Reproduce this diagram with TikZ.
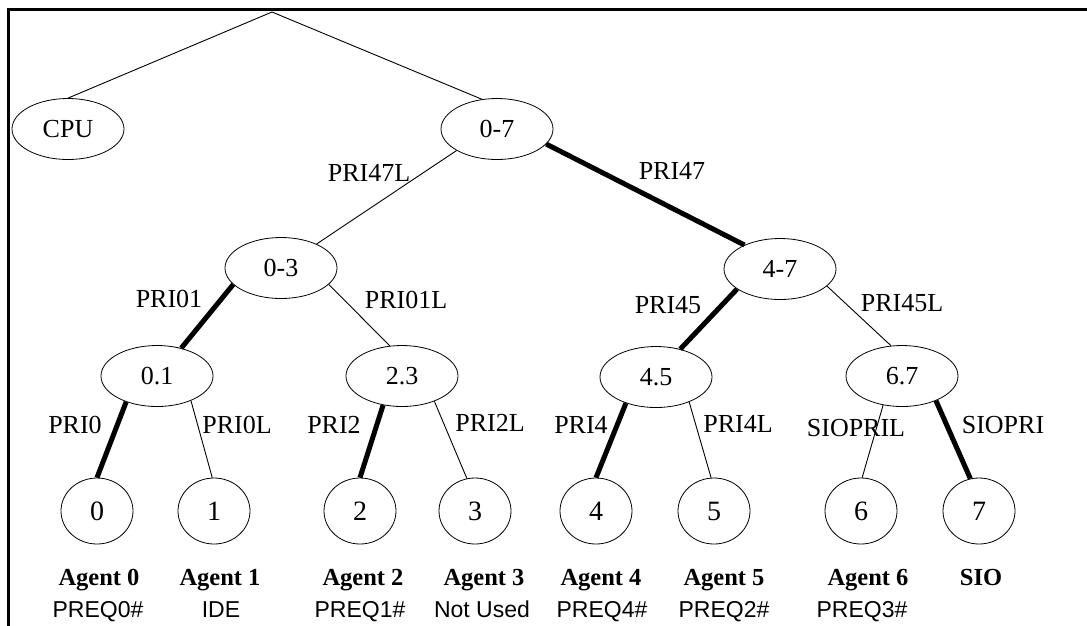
\documentclass[tikz,border=0pt]{standalone}
\usepackage{fontspec}
\setmainfont{Liberation Serif}
\newfontfamily\arialfont{Liberation Sans}
\usetikzlibrary{shapes.geometric}

\begin{document}
\begin{tikzpicture}[x=1pt,y=-1pt,
  oval/.style={ellipse,draw,line width=0.8pt,inner sep=0pt,minimum width=112pt,minimum height=61pt,font=\fontsize{26}{30}\selectfont},
  agent/.style={ellipse,draw,line width=0.8pt,inner sep=0pt,minimum width=72pt,minimum height=66pt,font=\fontsize{28}{30}\selectfont},
  pri/.style={inner sep=0pt,font=\fontsize{26}{30}\selectfont},
  who/.style={anchor=base,inner sep=0pt,font=\bfseries\fontsize{24.5}{28}\selectfont},
  req/.style={anchor=base,inner sep=0pt,font=\arialfont\fontsize{23}{28}\selectfont},
  hi/.style={line width=5pt},
  lo/.style={line width=0.9pt}]
\useasboundingbox (0,0) rectangle (1087,625);
\draw[line width=3pt] (8,630) -- (8,9) -- (1092,9);
\coordinate (top) at (272,12);
\node[oval] (cpu) at (68,129) {CPU};
\node[oval] (n07) at (497,129) {0-7};
\node[oval] (n03) at (281,268) {0-3};
\node[oval] (n47) at (780,269) {4-7};
\node[oval] (n01) at (157,376) {0.1};
\node[oval] (n23) at (402,376) {2.3};
\node[oval] (n45) at (656,377) {4.5};
\node[oval] (n67) at (902,376) {6.7};
\node[agent] (a0) at (97,511) {0};
\node[agent] (a1) at (214,511) {1};
\node[agent] (a2) at (360,511) {2};
\node[agent] (a3) at (475,511) {3};
\node[agent] (a4) at (596,511) {4};
\node[agent] (a5) at (714,511) {5};
\node[agent] (a6) at (861,511) {6};
\node[agent] (a7) at (979,511) {7};
\draw[lo] (top) -- (cpu.north);
\draw[lo] (top) -- (n07.117);
\draw[lo] (n07.208) -- (n03.34);
\draw[hi] (n07.343) -- (n47.146);
\draw[hi] (n03.199) -- (n01.49);
\draw[lo] (n03.341) -- (n23.112);
\draw[hi] (n47.205) -- (n45.49);
\draw[lo] (n47.340) -- (n67.110);
\draw[hi] (n01.220) -- (a0.90);
\draw[lo] (n01.324) -- (a1.93);
\draw[hi] (n23.237) -- (a2.90);
\draw[lo] (n23.322) -- (a3.104);
\draw[hi] (n45.221) -- (a4.90);
\draw[lo] (n45.323) -- (a5.95);
\draw[lo] (n67.237) -- (a6.88);
\draw[hi] (n67.324) -- (a7.105);
\node[pri] (p47l) at (369,173) {PRI47L};
\node[pri] (p47) at (672,171) {PRI47};
\node[pri] (p01) at (169,299) {PRI01};
\node[pri] (p01l) at (406,300) {PRI01L};
\node[pri] (p45) at (668,305) {PRI45};
\node[pri] (p45l) at (902,303) {PRI45L};
\node[pri] (p0) at (75,425) {PRI0};
\node[pri] (p0l) at (237,425) {PRI0L};
\node[pri] (p2) at (334,425) {PRI2};
\node[pri] (p2l) at (490,423) {PRI2L};
\node[pri] (p4) at (581,425) {PRI4};
\node[pri] (p4l) at (738,424) {PRI4L};
\node[pri] (siol) at (856,428) {SIOPRIL};
\node[pri] (sio) at (1003,425) {SIOPRI};
\node[who] (w0) at (99,585) {Agent 0};
\node[who] (w1) at (220,585) {Agent 1};
\node[who] (w2) at (363,585) {Agent 2};
\node[who] (w3) at (484,585) {Agent 3};
\node[who] (w4) at (601,585) {Agent 4};
\node[who] (w5) at (724,585) {Agent 5};
\node[who] (w6) at (868,585) {Agent 6};
\node[who] (w7) at (981,585) {SIO};
\node[req] (r0) at (98,617) {PREQ0\#};
\node[req] (r1) at (221,617) {IDE};
\node[req] (r2) at (360,617) {PREQ1\#};
\node[req] (r3) at (482,617) {Not Used};
\node[req] (r4) at (602,617) {PREQ4\#};
\node[req] (r5) at (724,617) {PREQ2\#};
\node[req] (r6) at (862,617) {PREQ3\#};
\end{tikzpicture}
\end{document}
